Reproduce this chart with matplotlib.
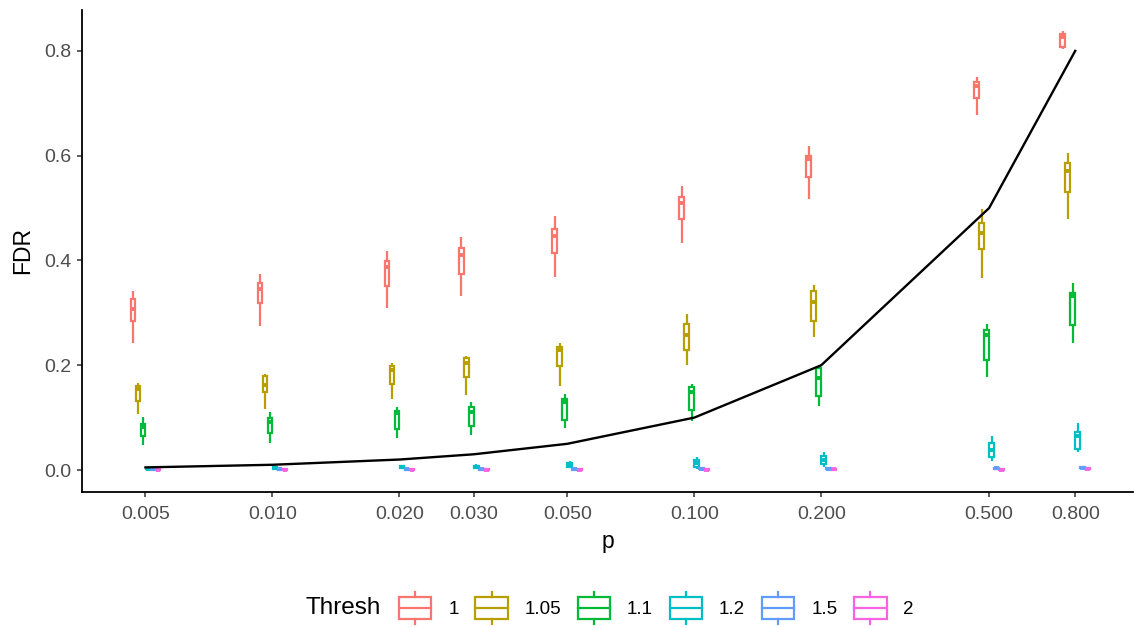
import numpy as np
import matplotlib
matplotlib.use("Agg")
import matplotlib.pyplot as plt
from matplotlib.legend_handler import HandlerBase
from matplotlib.lines import Line2D
from matplotlib.patches import Rectangle
from matplotlib.ticker import FixedLocator, FixedFormatter, NullLocator

plt.rcParams['font.family'] = ['Liberation Sans', 'DejaVu Sans']

# x categories (p) and the threshold groups
p_values = [0.005, 0.01, 0.02, 0.03, 0.05, 0.1, 0.2, 0.5, 0.8]
thresholds = ["1", "1.05", "1.1", "1.2", "1.5", "2"]
colors = ["#F8766D", "#B79F00", "#00BA38", "#00BFC4", "#619CFF", "#F564E3"]

# box summaries per p: [lower whisker, Q1, median, Q3, upper whisker]
fdr_t1 = [
    [0.242, 0.285, 0.307, 0.326, 0.342],
    [0.274, 0.318, 0.345, 0.356, 0.374],
    [0.310, 0.351, 0.388, 0.399, 0.418],
    [0.332, 0.375, 0.410, 0.423, 0.445],
    [0.369, 0.414, 0.447, 0.460, 0.484],
    [0.433, 0.480, 0.510, 0.521, 0.542],
    [0.517, 0.560, 0.593, 0.600, 0.619],
    [0.678, 0.710, 0.732, 0.740, 0.750],
    [0.804, 0.808, 0.827, 0.832, 0.837],
]
fdr_t105 = [
    [0.106, 0.132, 0.154, 0.160, 0.167],
    [0.116, 0.148, 0.162, 0.179, 0.183],
    [0.136, 0.164, 0.191, 0.199, 0.204],
    [0.143, 0.178, 0.205, 0.213, 0.218],
    [0.161, 0.199, 0.229, 0.235, 0.242],
    [0.200, 0.229, 0.258, 0.279, 0.297],
    [0.253, 0.285, 0.321, 0.342, 0.353],
    [0.366, 0.422, 0.452, 0.472, 0.498],
    [0.479, 0.531, 0.570, 0.586, 0.606],
]
fdr_t11 = [
    [0.048, 0.064, 0.083, 0.088, 0.102],
    [0.051, 0.070, 0.092, 0.100, 0.110],
    [0.062, 0.078, 0.109, 0.113, 0.120],
    [0.067, 0.084, 0.111, 0.120, 0.130],
    [0.080, 0.095, 0.130, 0.135, 0.145],
    [0.094, 0.115, 0.148, 0.159, 0.165],
    [0.122, 0.141, 0.175, 0.194, 0.200],
    [0.177, 0.210, 0.258, 0.267, 0.278],
    [0.242, 0.276, 0.332, 0.337, 0.356],
]
fdr_t12 = [
    [0.000, 0.001, 0.002, 0.004, 0.006],
    [0.001, 0.002, 0.004, 0.006, 0.008],
    [0.002, 0.004, 0.005, 0.007, 0.010],
    [0.002, 0.004, 0.006, 0.008, 0.011],
    [0.003, 0.006, 0.009, 0.013, 0.018],
    [0.002, 0.006, 0.013, 0.019, 0.024],
    [0.006, 0.011, 0.019, 0.027, 0.035],
    [0.018, 0.025, 0.038, 0.051, 0.065],
    [0.035, 0.041, 0.064, 0.072, 0.090],
]
fdr_t15 = [
    [0.000, 0.000, 0.001, 0.002, 0.003],
    [0.000, 0.000, 0.001, 0.002, 0.003],
    [0.000, 0.000, 0.001, 0.002, 0.003],
    [0.000, 0.000, 0.001, 0.002, 0.003],
    [0.000, 0.000, 0.001, 0.002, 0.003],
    [0.000, 0.001, 0.002, 0.003, 0.004],
    [0.000, 0.001, 0.002, 0.003, 0.004],
    [0.001, 0.002, 0.003, 0.004, 0.005],
    [0.002, 0.003, 0.004, 0.005, 0.006],
]
fdr_t2 = [
    [0.000, 0.000, 0.000, 0.001, 0.002],
    [0.000, 0.000, 0.000, 0.001, 0.002],
    [0.000, 0.000, 0.000, 0.001, 0.002],
    [0.000, 0.000, 0.000, 0.001, 0.002],
    [0.000, 0.000, 0.000, 0.001, 0.002],
    [0.000, 0.000, 0.000, 0.001, 0.002],
    [0.000, 0.000, 0.001, 0.001, 0.002],
    [0.000, 0.000, 0.000, 0.001, 0.002],
    [0.001, 0.002, 0.002, 0.003, 0.004],
]
fdr_groups = [fdr_t1, fdr_t105, fdr_t11, fdr_t12, fdr_t15, fdr_t2]

# reference line FDR = p
ref_line = p_values

W, H = 1135, 628
fig = plt.figure(figsize=(W / 100, H / 100), dpi=100)
ax = fig.add_axes([82 / W, 1 - 491.7 / H, (1133 - 82) / W, (491.7 - 10) / H])
ax.set_xscale("log")

dodge = 0.01185   # spacing between threshold boxes (decades)
half_w = 0.0055   # half box width (decades)
lw = 1.6

for gi, (stats_rows, col) in enumerate(zip(fdr_groups, colors)):
    off = (gi - 2.5) * dodge
    pos = [p * 10 ** off for p in p_values]
    widths = [x * (10 ** half_w - 10 ** -half_w) for x in pos]
    stats = [dict(whislo=r[0], q1=r[1], med=r[2], q3=r[3], whishi=r[4], fliers=[])
             for r in stats_rows]
    ax.bxp(stats, positions=pos, widths=widths, patch_artist=True,
           showcaps=False, showfliers=False, manage_ticks=False,
           boxprops=dict(facecolor="white", edgecolor=col, linewidth=lw),
           whiskerprops=dict(color=col, linewidth=lw, solid_capstyle="butt"),
           medianprops=dict(color=col, linewidth=2.8, solid_capstyle="butt"))

ax.plot(p_values, ref_line, color="black", linewidth=1.7, zorder=5)

# axis ranges
lx0, lx1 = np.log10(0.005) - 0.1505, np.log10(0.8) + 0.137
ax.set_xlim(10 ** lx0, 10 ** lx1)
ax.set_ylim(-0.0414, 0.878)

ax.xaxis.set_major_locator(FixedLocator(p_values))
ax.xaxis.set_major_formatter(FixedFormatter([f"{p:.3f}" for p in p_values]))
ax.xaxis.set_minor_locator(NullLocator())
ax.set_yticks([0.0, 0.2, 0.4, 0.6, 0.8])
ax.set_yticklabels(["0.0", "0.2", "0.4", "0.6", "0.8"])

for s in ["top", "right"]:
    ax.spines[s].set_visible(False)
for s in ["left", "bottom"]:
    ax.spines[s].set_linewidth(1.3)
ax.tick_params(axis="both", length=3.5, width=1.1, color="#333333",
               labelcolor="#4D4D4D", labelsize=14)
ax.tick_params(axis="x", pad=6.5)
ax.tick_params(axis="y", pad=4)

ax.set_xlabel("p", fontsize=16.5, labelpad=5)
ax.set_ylabel("FDR", fontsize=16.5, labelpad=7)


class BoxKey(HandlerBase):
    def create_artists(self, legend, orig_handle, xdescent, ydescent,
                       width, height, fontsize, trans):
        c = orig_handle.get_color()
        x0, y0 = -xdescent, -ydescent
        bh = height * 0.68
        by = y0 + (height - bh) / 2
        xm = x0 + width / 2
        rect = Rectangle((x0, by), width, bh, facecolor="white", edgecolor=c,
                         linewidth=lw, transform=trans)
        med = Line2D([x0, x0 + width], [y0 + height / 2] * 2, color=c,
                     linewidth=lw, transform=trans)
        w1 = Line2D([xm, xm], [y0, by], color=c, linewidth=lw, transform=trans)
        w2 = Line2D([xm, xm], [by + bh, y0 + height], color=c, linewidth=lw,
                    transform=trans)
        return [rect, med, w1, w2]


handles = [Line2D([], [], color=c) for c in colors]
leg_fs = 13.5
fig.legend(handles, thresholds, handler_map={Line2D: BoxKey()},
           loc="center left", bbox_to_anchor=(399 / W, 1 - 608 / H),
           ncol=6, frameon=False, fontsize=leg_fs, borderpad=0,
           borderaxespad=0, handlelength=1.72, handleheight=2.25,
           handletextpad=0.9, columnspacing=0.9)
fig.text(305 / W, 1 - 608 / H, "Thresh", fontsize=17.5, ha="left", va="center")

fig.savefig("out.png", dpi=100)
